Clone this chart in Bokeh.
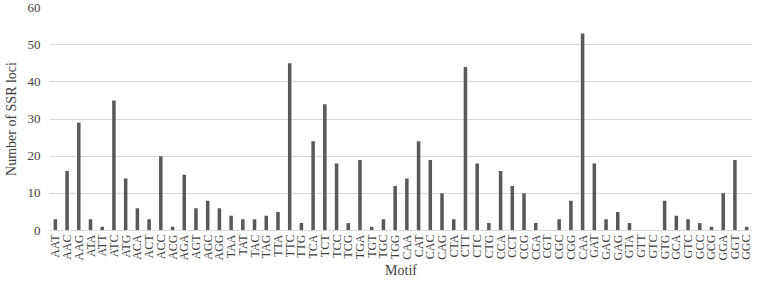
import math
from bokeh.plotting import figure
from bokeh.models import Range1d, FixedTicker, ColumnDataSource
from bokeh.embed import file_html
from bokeh.resources import INLINE

motifs = ["AAT", "AAC", "AAG", "ATA", "ATT", "ATC", "ATG", "ACA", "ACT", "ACC",
          "ACG", "AGA", "AGT", "AGC", "AGG", "TAA", "TAT", "TAC", "TAG", "TTA",
          "TTC", "TTG", "TCA", "TCT", "TCC", "TCG", "TGA", "TGT", "TGC", "TGG",
          "CAA", "CAT", "CAC", "CAG", "CTA", "CTT", "CTC", "CTG", "CCA", "CCT",
          "CCG", "CGA", "CGT", "CGC", "CGG", "CAA", "GAT", "GAC", "GAG", "GTA",
          "GTT", "GTC", "GTG", "GCA", "GTC", "GCC", "GCG", "GGA", "GGT", "GGC"]
counts = [3, 16, 29, 3, 1, 35, 14, 6, 3, 20,
          1, 15, 6, 8, 6, 4, 3, 3, 4, 5,
          45, 2, 24, 34, 18, 2, 19, 1, 3, 12,
          14, 24, 19, 10, 3, 44, 18, 2, 16, 12,
          10, 2, 0, 3, 8, 53, 18, 3, 5, 2,
          0, 0, 8, 4, 3, 2, 1, 10, 19, 1]
y_ticks = [0, 10, 20, 30, 40, 50, 60]

positions = list(range(1, len(motifs) + 1))
src = ColumnDataSource(dict(x=positions, top=counts))

FONT = "Liberation Serif"

p = figure(width=752, height=281, output_backend="svg", toolbar_location=None,
           x_range=Range1d(0.5, len(motifs) + 0.5), y_range=Range1d(0, 60),
           min_border=0, min_border_top=7, min_border_right=0)
p.outline_line_color = None
p.background_fill_color = "white"

p.vbar(x="x", top="top", width=0.3, bottom=0, source=src,
       fill_color="#595959", line_color=None)

p.xaxis.ticker = FixedTicker(ticks=positions)
p.xaxis.major_label_overrides = {pos: lab for pos, lab in zip(positions, motifs)}
p.xaxis.major_label_orientation = math.pi / 2
p.xaxis.axis_label = "Motif"
p.yaxis.ticker = FixedTicker(ticks=y_ticks)
p.yaxis.axis_label = "Number of SSR loci"

for ax in (p.xaxis, p.yaxis):
    ax.major_label_text_font = FONT
    ax.major_label_text_font_size = "13px"
    ax.major_label_text_color = "#404040"
    ax.axis_label_text_font = FONT
    ax.axis_label_text_font_size = "14px"
    ax.axis_label_text_font_style = "normal"
    ax.axis_label_text_color = "#404040"
    ax.major_tick_line_color = None
    ax.minor_tick_line_color = None
    ax.major_tick_out = 0
    ax.major_tick_in = 0
    ax.minor_tick_out = 0
    ax.minor_tick_in = 0

p.xaxis.major_label_text_font_size = "12px"
p.xaxis.axis_line_color = "#d9d9d9"
p.yaxis.axis_line_color = None
p.xaxis.major_label_standoff = 4
p.xaxis.axis_label_standoff = 0
p.yaxis.major_label_standoff = 9
p.yaxis.axis_label_standoff = 6

p.xgrid.grid_line_color = None
p.ygrid.grid_line_color = "#d9d9d9"
p.ygrid.grid_line_width = 1

open("out.html", "w").write(file_html(p, INLINE))
